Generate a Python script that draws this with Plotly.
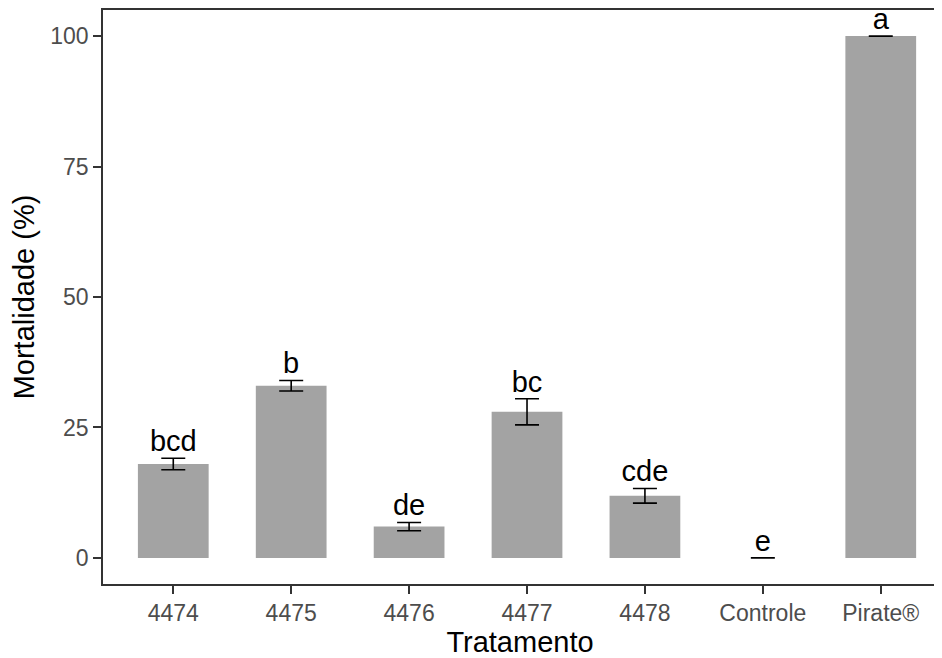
import plotly.graph_objects as go

categories = ["4474", "4475", "4476", "4477", "4478", "Controle", "Pirate®"]
mortality = [18.0, 33.0, 6.0, 28.0, 11.9, 0.0, 100.0]
std_err = [1.1, 1.0, 0.8, 2.5, 1.4, 0.0, 0.0]
letters = ["bcd", "b", "de", "bc", "cde", "e", "a"]

fig = go.Figure()
fig.add_trace(go.Bar(
    x=categories, y=mortality, width=0.6,
    marker=dict(color="#A3A3A3", line=dict(width=0)),
    error_y=dict(type="data", array=std_err, visible=True, color="black",
                 thickness=1.6, width=12),
    showlegend=False,
))
tops = [m + e for m, e in zip(mortality, std_err)]
fig.add_trace(go.Scatter(
    x=categories, y=tops, mode="text", text=letters,
    textposition="top center",
    textfont=dict(family="Liberation Sans, Arial", size=29, color="black"),
    showlegend=False, cliponaxis=False,
))
fig.update_layout(
    width=934, height=650,
    margin=dict(l=95, r=5, t=2, b=74),
    plot_bgcolor="white", paper_bgcolor="white",
    font=dict(family="Liberation Sans, Arial", color="black"),
    bargap=0.4,
)
fig.update_xaxes(
    range=[-0.596, 6.477], showline=True, linecolor="#333333", linewidth=1.6,
    mirror=True, ticks="outside", ticklen=8, tickwidth=1.6, tickcolor="#333333",
    tickfont=dict(size=23, color="#4D4D4D"),
    title=dict(text="Tratamento", font=dict(size=29, color="black"), standoff=4),
    showgrid=False, automargin=False,
)
fig.update_yaxes(
    range=[-5, 105], showline=True, linecolor="#333333", linewidth=1.6,
    mirror=True, ticks="outside", ticklen=8, tickwidth=1.6, tickcolor="#333333",
    tickvals=[0, 25, 50, 75, 100],
    tickfont=dict(size=23, color="#4D4D4D"),
    title=dict(text="Mortalidade (%)", font=dict(size=29, color="black"), standoff=8),
    showgrid=False, zeroline=False, automargin=False,
)
fig.write_html("out.html")
